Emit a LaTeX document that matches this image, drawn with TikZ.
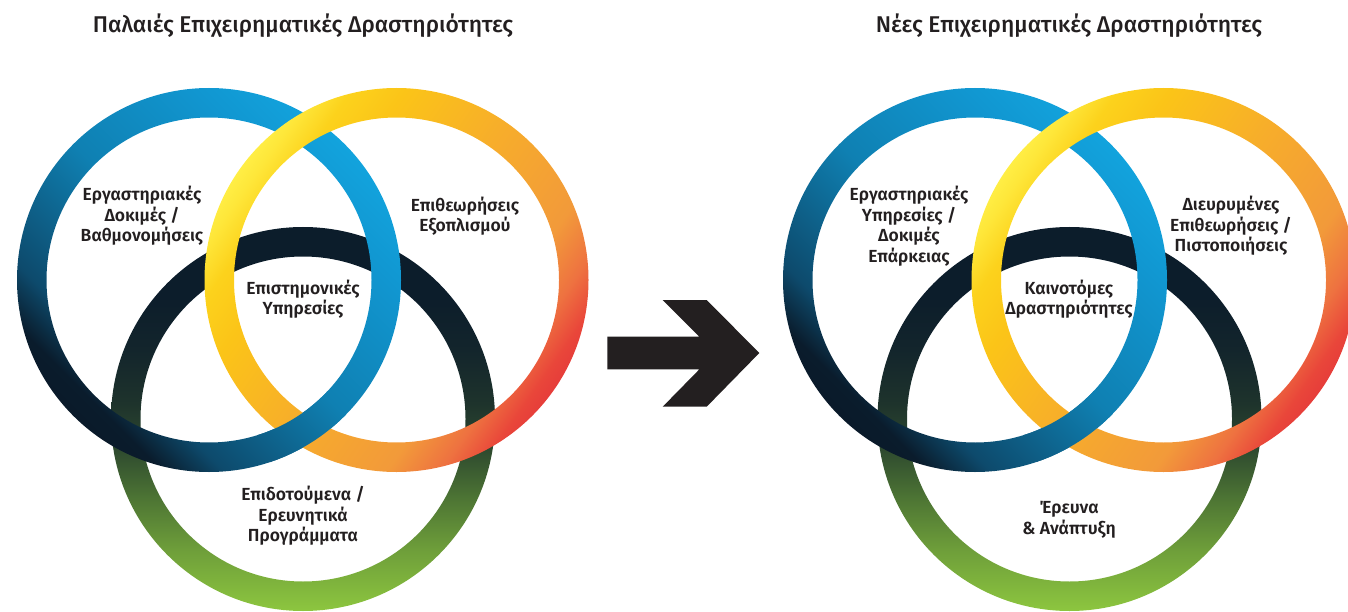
\documentclass[tikz,border=0pt]{standalone}
\usepackage{fontspec}
\setmainfont{Fira Sans}[UprightFont=* Medium]
\newfontfamily\labfont{Fira Sans}[UprightFont=* SemiBold]
\usetikzlibrary{calc}
\definecolor{textc}{HTML}{231F20}
\definecolor{bl0}{HTML}{0A1A2A}
\definecolor{bl1}{HTML}{0A1C2C}
\definecolor{bl2}{HTML}{0D4A6C}
\definecolor{bl3}{HTML}{0F80B2}
\definecolor{bl4}{HTML}{1196D0}
\definecolor{bl5}{HTML}{12A0DA}
\definecolor{bl6}{HTML}{12A3DD}
\definecolor{ye0}{HTML}{FFEE45}
\definecolor{ye1}{HTML}{FEE73A}
\definecolor{ye2}{HTML}{FCD21C}
\definecolor{ye3}{HTML}{FBC418}
\definecolor{ye4}{HTML}{F7AD2B}
\definecolor{ye5}{HTML}{F29A3A}
\definecolor{ye6}{HTML}{EE7240}
\definecolor{ye7}{HTML}{E9463A}
\definecolor{ye8}{HTML}{E63D3A}
\definecolor{gr0}{HTML}{8DC63F}
\definecolor{gr1}{HTML}{6E9E3A}
\definecolor{gr2}{HTML}{4E7634}
\definecolor{gr3}{HTML}{2E4A2F}
\definecolor{gr4}{HTML}{1E332C}
\definecolor{gr5}{HTML}{13252C}
\definecolor{gr6}{HTML}{0C1D2B}
\pgfdeclarehorizontalshading{blueshade}{100bp}{color(0bp)=(bl0); color(25bp)=(bl0); color(28bp)=(bl1); color(33.7bp)=(bl2); color(50bp)=(bl3); color(66.3bp)=(bl4); color(73bp)=(bl5); color(75bp)=(bl6); color(100bp)=(bl6)}
\pgfdeclarehorizontalshading{yelshade}{100bp}{color(0bp)=(ye0); color(25bp)=(ye0); color(27bp)=(ye1); color(31bp)=(ye2); color(36.8bp)=(ye3); color(50bp)=(ye4); color(63.2bp)=(ye5); color(68.9bp)=(ye6); color(73bp)=(ye7); color(75bp)=(ye8); color(100bp)=(ye8)}
\pgfdeclareverticalshading{grnshade}{100bp}{color(0bp)=(gr0); color(25bp)=(gr0); color(33bp)=(gr1); color(39.5bp)=(gr2); color(46bp)=(gr3); color(52bp)=(gr4); color(59bp)=(gr5); color(66bp)=(gr6); color(100bp)=(gr6)}
\newcommand{\ringat}[1]{(#1) circle[radius=192pt] (#1) circle[radius=162.5pt]}
\tikzset{
  bluering/.style={shading=blueshade, shading angle=45, even odd rule},
  yelring/.style={shading=yelshade, shading angle=-35, even odd rule},
  grnring/.style={shading=grnshade, even odd rule},
  lab/.style={text=textc, align=center, font=\labfont\fontsize{17.5}{20.5}\selectfont, inner sep=0pt},
  ttl/.style={text=textc, anchor=base, font=\fontsize{22.8}{27}\selectfont, inner sep=0pt},
}
\begin{document}
\begin{tikzpicture}[x=1pt,y=-1pt]
\useasboundingbox (0,0) rectangle (1348,612);
% ---------- left diagram ----------
\coordinate (LB) at (209,280);
\coordinate (LY) at (396.5,280);
\coordinate (LG) at (303,419);
\shade[grnring] \ringat{LG};
\shade[bluering] \ringat{LB};
\shade[yelring] \ringat{LY};
\begin{scope}
  \clip (302.75,430) circle[radius=46pt];
  \shade[bluering] \ringat{LB};
\end{scope}
% ---------- right diagram ----------
\coordinate (RB) at (975,280);
\coordinate (RY) at (1163.5,280);
\coordinate (RG) at (1069.5,419);
\shade[grnring] \ringat{RG};
\shade[bluering] \ringat{RB};
\shade[yelring] \ringat{RY};
\begin{scope}
  \clip (1069.25,430) circle[radius=46pt];
  \shade[bluering] \ringat{RB};
\end{scope}
% ---------- arrow ----------
\fill[textc] (607.3,336.7) -- (699.4,336.7) -- (662.7,300) -- (706.7,300) -- (759.3,353) -- (706.7,406.7) -- (662.7,406.7) -- (699.4,369.3) -- (607.3,369.3) -- cycle;
% ---------- titles ----------
\node[ttl] (t1) at (303,33) {Παλαιές Επιχειρηματικές Δραστηριότητες};
\node[ttl] (t2) at (1069,33) {Νέες Επιχειρηματικές Δραστηριότητες};
% ---------- labels ----------
\node[lab] (l1) at (142,216) {Εργαστηριακές\\Δοκιμές /\\Βαθμονομήσεις};
\node[lab] (l2) at (465,216) {Επιθεωρήσεις\\Εξοπλισμού};
\node[lab] (l3) at (303,299) {Επιστημονικές\\Υπηρεσίες};
\node[lab] (l4) at (303,516) {Επιδοτούμενα /\\Ερευνητικά\\Προγράμματα};
\node[lab] (r1) at (909,226) {Εργαστηριακές\\Υπηρεσίες /\\Δοκιμές\\Επάρκειας};
\node[lab] (r2) at (1231,226) {Διευρυμένες\\Επιθεωρήσεις /\\Πιστοποιήσεις};
\node[lab] (r3) at (1069,299) {Καινοτόμες\\Δραστηριότητες};
\node[lab] (r4) at (1069,520) {Έρευνα\\\& Ανάπτυξη};
\end{tikzpicture}
\end{document}
